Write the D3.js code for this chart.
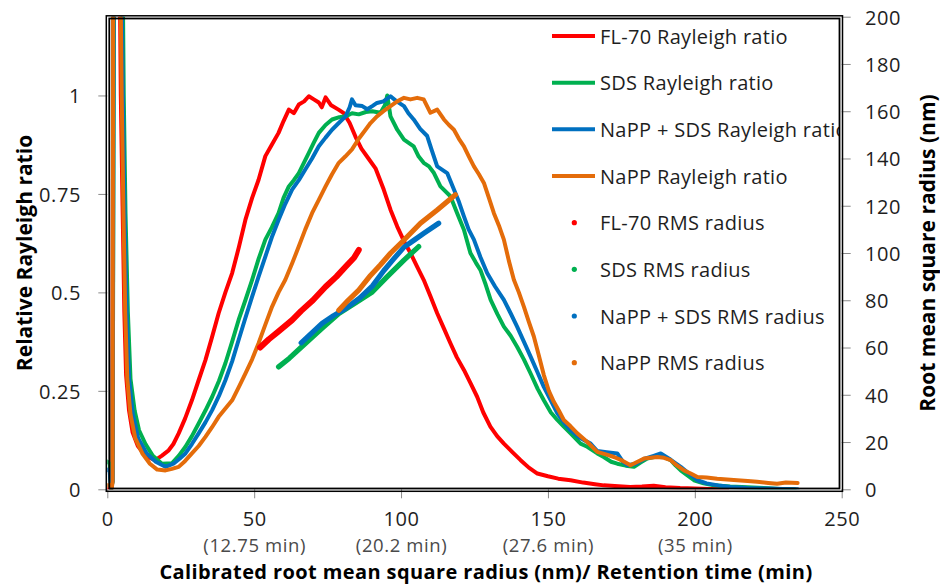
<!DOCTYPE html>
<html><head><meta charset="utf-8">
<script src="https://cdn.jsdelivr.net/npm/d3@7"></script>
<style>
body{margin:0;background:#fff;}
svg{display:block;font-family:"Open Sans",sans-serif;}
</style></head>
<body><svg id="chart" width="940" height="585"></svg>
<script>
// ---------- data (x: calibrated rms radius, nm) ----------
const xTicks = [0, 50, 100, 150, 200, 250];
const xSubLabels = ["", "(12.75 min)", "(20.2 min)", "(27.6 min)", "(35 min)", ""];
const yLeftTicks = [0, 0.25, 0.5, 0.75, 1];
const yLeftLabels = ["0", "0.25", "0.5", "0.75", "1"];
const yRightTicks = [0, 20, 40, 60, 80, 100, 120, 140, 160, 180, 200];

const seriesNames = ["FL-70", "SDS", "NaPP + SDS", "NaPP"];
const seriesColors = ["#FF0000", "#00B050", "#0070C0", "#E46C0A"];

// Relative Rayleigh ratio curves [x, ratio]
const fl70Rayleigh = [[0,0],[1.2,0],[1.7,0.02],[2.1,1.35],[4.2,1.35],[4.6,1.0],[5.2,0.72],[5.8,0.45],[6.4,0.29],[7.4,0.2],[8.6,0.145],[10.4,0.11],[13,0.085],[16.3,0.074],[18.5,0.085],[20.9,0.099],[22.5,0.115],[24.3,0.142],[26.5,0.18],[28.8,0.226],[31,0.275],[33.4,0.328],[35.6,0.385],[37.9,0.447],[40.2,0.5],[42.5,0.549],[44.8,0.615],[47,0.684],[49.3,0.74],[51.5,0.786],[53.8,0.846],[56,0.875],[58.3,0.905],[60,0.935],[61.8,0.964],[63.5,0.955],[65.2,0.977],[67,0.985],[68.6,0.998],[70.3,0.99],[72,0.982],[73,0.97],[74.3,0.995],[76.2,0.975],[78.7,0.964],[80.5,0.955],[82.5,0.93],[84.5,0.895],[86.5,0.865],[88.9,0.84],[91.3,0.815],[94.1,0.761],[96.4,0.71],[98.7,0.667],[101,0.63],[103.2,0.6],[105.5,0.565],[107.7,0.532],[110,0.49],[112.3,0.447],[114.5,0.41],[116.8,0.371],[119,0.335],[121.4,0.303],[123.6,0.27],[125.9,0.235],[128,0.195],[130.4,0.159],[132.7,0.135],[135,0.116],[137.8,0.095],[140.7,0.074],[143.5,0.055],[146.4,0.04],[150,0.033],[153.5,0.027],[157.7,0.023],[162,0.017],[166,0.013],[169,0.01],[174,0.008],[178,0.006],[182,0.007],[186,0.009],[190,0.005],[195,0.003],[200,0.002],[205,0.001],[211,0]];

const sdsRayleigh = [[0,0.07],[0.8,0.065],[1.3,0],[1.8,0.02],[2.3,1.35],[5.2,1.35],[5.6,1.0],[6.2,0.7],[7,0.45],[7.9,0.28],[9.3,0.2],[10.8,0.15],[13,0.115],[15.5,0.085],[18.6,0.065],[22,0.066],[24.3,0.085],[26.6,0.108],[28.8,0.135],[31.1,0.167],[33.4,0.2],[35.7,0.235],[38,0.275],[40.2,0.32],[42.5,0.375],[44.7,0.43],[47,0.48],[49.3,0.532],[51.5,0.585],[53.8,0.634],[56,0.665],[58.3,0.701],[60,0.74],[61.8,0.769],[63.5,0.785],[65.2,0.803],[67,0.83],[68.6,0.854],[70.3,0.88],[72,0.905],[74.3,0.925],[76.5,0.939],[79,0.945],[81.1,0.947],[83.3,0.955],[85.6,0.952],[88,0.958],[90.2,0.96],[93,0.956],[94.5,0.975],[95.3,1.0],[96.4,0.947],[98.7,0.913],[101,0.888],[104.3,0.871],[106,0.845],[107.7,0.829],[109.5,0.82],[111.2,0.803],[113.4,0.769],[116.8,0.744],[119.1,0.701],[121.4,0.659],[123.6,0.6],[125.5,0.575],[127,0.557],[128.8,0.52],[130.5,0.481],[132.8,0.445],[135,0.413],[137.3,0.39],[139.5,0.362],[141.8,0.33],[144.1,0.294],[146.5,0.255],[148.6,0.226],[151,0.195],[153.2,0.176],[155.4,0.159],[157.7,0.142],[161.1,0.116],[163.4,0.108],[166.8,0.091],[169,0.082],[171.5,0.07],[173.6,0.065],[176.5,0.06],[179.3,0.057],[181.5,0.068],[183.8,0.078],[186,0.082],[188.4,0.087],[190,0.08],[191.8,0.074],[193.5,0.06],[195.2,0.048],[197.5,0.035],[199.7,0.023],[203,0.015],[206.5,0.01],[212,0.007],[218,0.005],[223.5,0.003],[229,0.001],[234,0]];

const nappSdsRayleigh = [[0,0.05],[0.8,0.045],[1.3,0],[1.8,0.02],[2.2,1.35],[4.8,1.35],[5.3,1.0],[5.9,0.7],[6.6,0.45],[7.4,0.28],[8.7,0.19],[10.5,0.13],[13.5,0.09],[16.5,0.07],[19.8,0.057],[22.5,0.065],[24.5,0.077],[26.6,0.091],[28.8,0.115],[31.1,0.142],[33.4,0.17],[35.7,0.201],[38,0.237],[40.2,0.277],[42.5,0.325],[44.7,0.379],[47,0.435],[49.3,0.489],[51.5,0.54],[53.8,0.591],[56,0.64],[58.3,0.684],[60.6,0.725],[62.9,0.761],[65.2,0.785],[67.4,0.812],[69.7,0.84],[72,0.871],[74.3,0.893],[76.5,0.913],[78.8,0.93],[81.1,0.947],[82.5,0.97],[83.3,0.99],[84.5,0.975],[86.8,0.973],[88.5,0.965],[90.2,0.973],[91.8,0.981],[94,0.985],[96.4,0.998],[98.5,0.985],[101,0.973],[102.5,0.955],[104.3,0.939],[106.5,0.915],[108.9,0.897],[110.5,0.86],[112.3,0.82],[115.7,0.803],[118,0.761],[119.7,0.73],[121.4,0.693],[123,0.66],[124.8,0.634],[127,0.59],[129.3,0.549],[132,0.515],[135,0.481],[137.3,0.447],[139.5,0.413],[141.8,0.375],[144.1,0.337],[146.4,0.298],[148.6,0.26],[151,0.225],[153.2,0.193],[155.4,0.17],[157.7,0.15],[161,0.13],[164.5,0.116],[166.8,0.097],[170,0.094],[173.6,0.091],[175.5,0.07],[177,0.061],[180,0.065],[183,0.078],[186,0.085],[188.4,0.091],[191.8,0.075],[195.2,0.057],[198,0.04],[200.9,0.023],[204,0.015],[208,0.01],[212.2,0.006],[218,0.003],[225,0.002],[230,0.001],[235,0]];

const nappRayleigh = [[0,0.01],[1,0.01],[1.5,0],[1.8,0.02],[2,1.35],[4.4,1.35],[4.9,1.0],[5.5,0.7],[6.1,0.45],[6.8,0.28],[7.9,0.19],[9.5,0.13],[12,0.09],[14.5,0.065],[17,0.05],[19.8,0.048],[22,0.052],[24.3,0.057],[26.5,0.072],[28.8,0.091],[31.1,0.11],[33.4,0.133],[35.6,0.157],[37.9,0.184],[40.2,0.205],[42.5,0.226],[44.8,0.26],[47,0.294],[49.3,0.33],[51.5,0.371],[53.8,0.418],[56.1,0.464],[58.3,0.5],[60.6,0.532],[63,0.575],[65.2,0.617],[67.4,0.66],[69.7,0.701],[72,0.735],[74.3,0.769],[76.5,0.8],[78.8,0.829],[81,0.845],[83.3,0.863],[85.6,0.89],[87.9,0.913],[89.6,0.93],[91.8,0.947],[94,0.96],[96.4,0.973],[98.7,0.985],[101,0.994],[103.2,0.99],[105.5,0.994],[107.7,0.99],[110,0.956],[112.3,0.964],[114.6,0.939],[116.3,0.925],[118,0.913],[119.7,0.89],[121.4,0.871],[123.1,0.845],[124.8,0.82],[126.5,0.8],[128.2,0.778],[129.9,0.74],[131.6,0.701],[133.3,0.67],[135,0.634],[136.7,0.58],[138.4,0.532],[140.1,0.5],[141.8,0.464],[143.5,0.425],[145.2,0.388],[146.9,0.34],[148.6,0.29],[150.3,0.25],[152,0.222],[153.7,0.2],[155.4,0.176],[157.7,0.16],[160,0.142],[163.4,0.12],[166.8,0.095],[170,0.088],[172.5,0.082],[175.5,0.072],[178.1,0.061],[180.5,0.07],[182.7,0.078],[185,0.08],[187.2,0.082],[189.5,0.08],[191.8,0.074],[194,0.06],[196.3,0.048],[198.6,0.04],[200.9,0.031],[204,0.03],[207.6,0.027],[211,0.025],[214.4,0.023],[218,0.021],[221.2,0.019],[225,0.016],[228,0.014],[231,0.017],[235,0.016]];

// RMS radius (right axis, nm) [x, radius]
const fl70Rms = [[52,60],[55,63.5],[58,66.5],[62.9,71.6],[66,75.5],[70,80],[74.3,85.7],[78,90],[81.1,94.2],[84,98],[85.6,101.3]];
const sdsRms = [[58.3,51.8],[62,55.5],[67.4,61.7],[73,68],[78.8,74.4],[84,78.5],[90.2,83.5],[95.3,90],[101,97],[106,102.7]];
const nappSdsRms = [[66,62],[69,65.5],[73.1,70.2],[77,73.5],[81.1,76.5],[86,81],[90.2,86],[94.1,92.5],[97.5,97.5],[101,102.5],[104.5,105.5],[107.7,108.3],[112.8,112.6]];
const nappRms = [[78.8,75.8],[82,80],[85.6,84.3],[89.6,90.5],[93,95],[96.4,99.9],[101,105.5],[106.6,112.6],[112.3,118.2],[118.5,124.6]];

const rayleighSeries = [fl70Rayleigh, sdsRayleigh, nappSdsRayleigh, nappRayleigh];
const rmsSeries = [fl70Rms, sdsRms, nappSdsRms, nappRms];

const legendLabels = ["FL-70 Rayleigh ratio","SDS Rayleigh ratio","NaPP + SDS Rayleigh ratio","NaPP Rayleigh ratio",
  "FL-70 RMS radius","SDS RMS radius","NaPP + SDS RMS radius","NaPP RMS radius"];

// ---------- layout ----------
const X0 = 107.3, X1 = 841.7, YT = 16.7, YB = 489.3;
const svg = d3.select("#chart");
const x = d3.scaleLinear().domain([0, 250]).range([X0, X1]);
const yL = d3.scaleLinear().domain([0, 1.2]).range([YB, YT]);
const yR = d3.scaleLinear().domain([0, 200]).range([YB, YT]);

const defs = svg.append("defs");
defs.append("clipPath").attr("id","plotclip").append("rect")
  .attr("x", X0).attr("y", YT).attr("width", X1 - X0).attr("height", YB - YT);
defs.append("clipPath").attr("id","legclip").append("rect")
  .attr("x", X0).attr("y", YT).attr("width", 839.5 - X0).attr("height", YB - YT);

const tickColor = "#8a8a8a", labelColor = "#1e1e1e";

// axes
const gx = svg.append("g").attr("transform", `translate(0,${YB})`)
  .call(d3.axisBottom(x).tickValues(xTicks).tickSize(9).tickPadding(13.5).tickFormat(d => d));
const gl = svg.append("g").attr("transform", `translate(${X0},0)`)
  .call(d3.axisLeft(yL).tickValues(yLeftTicks).tickSize(9).tickPadding(17.3).tickFormat((d,i) => yLeftLabels[i]));
const gr = svg.append("g").attr("transform", `translate(${X1},0)`)
  .call(d3.axisRight(yR).tickValues(yRightTicks).tickSize(9).tickPadding(14.3).tickFormat(d => d));
[gx, gl, gr].forEach(g => {
  g.select(".domain").remove();
  g.selectAll(".tick line").attr("stroke", tickColor).attr("stroke-width", 1);
  g.selectAll(".tick text").attr("fill", labelColor).attr("font-size", 20)
    .attr("font-family", "Open Sans").style("letter-spacing", "0.6px");
});
gl.selectAll(".tick text").attr("dy", "0.37em");
gr.selectAll(".tick text").attr("dy", "0.37em");
// retention-time sub labels as separate texts under each tick
gx.selectAll(".tick").each(function(d, i) {
  if (xSubLabels[i]) {
    d3.select(this).append("text").attr("x", 0).attr("y", 62.7)
      .attr("text-anchor", "middle").attr("fill", "#4a4a4a").attr("font-size", 18.5)
      .attr("font-family", "Open Sans").style("letter-spacing", "0.6px")
      .text(xSubLabels[i]);
  }
});

// curves
const plot = svg.append("g").attr("clip-path", "url(#plotclip)");
const lineL = d3.line().x(d => x(d[0])).y(d => yL(d[1]));
const lineR = d3.line().x(d => x(d[0])).y(d => yR(d[1]));
rayleighSeries.forEach((s, i) => {
  plot.append("path").datum(s).attr("d", lineL).attr("fill", "none")
    .attr("stroke", seriesColors[i]).attr("stroke-width", 4)
    .attr("stroke-linejoin", "round").attr("stroke-linecap", "round");
});
rmsSeries.forEach((s, i) => {
  plot.append("path").datum(s).attr("d", lineR).attr("fill", "none")
    .attr("stroke", seriesColors[i]).attr("stroke-width", i === 0 ? 6 : 5.2)
    .attr("stroke-linejoin", "round").attr("stroke-linecap", "round");
});

// legend
const leg = svg.append("g").attr("clip-path", "url(#legclip)");
legendLabels.forEach((lab, i) => {
  const yy = 36 + i * 46.67;
  const c = seriesColors[i % 4];
  if (i < 4) {
    leg.append("line").attr("x1", 552).attr("x2", 595).attr("y1", yy).attr("y2", yy)
      .attr("stroke", c).attr("stroke-width", 4);
  } else {
    leg.append("circle").attr("cx", 574.3).attr("cy", yy).attr("r", 2.6).attr("fill", c);
  }
  leg.append("text").attr("x", 600).attr("y", yy + 7.5).attr("font-size", 20)
    .style("letter-spacing", "0.3px").attr("fill", labelColor).text(lab);
});

// plot border (double line)
svg.append("rect").attr("x", 106.3).attr("y", 15.8).attr("width", 842.5 - 106.3).attr("height", 491.3 - 15.8)
  .attr("fill", "none").attr("stroke", "#000").attr("stroke-width", 1.5);
svg.append("rect").attr("x", 109.3).attr("y", 18.5).attr("width", 839.5 - 109.3).attr("height", 488.5 - 18.5)
  .attr("fill", "none").attr("stroke", "#000").attr("stroke-width", 1.8);

// titles
svg.append("text").attr("x", 486).attr("y", 579).attr("text-anchor", "middle")
  .attr("font-size", 20).attr("font-weight", "bold").attr("fill", "#000")
  .style("letter-spacing", "0.4px")
  .text("Calibrated root mean square radius (nm)/ Retention time (min)");
svg.append("text").attr("transform", "translate(31.5,253) rotate(-90)").attr("text-anchor", "middle")
  .attr("font-size", 21).attr("font-weight", "bold").attr("fill", "#000")
  .text("Relative Rayleigh ratio");
svg.append("text").attr("transform", "translate(935,253) rotate(-90)").attr("text-anchor", "middle")
  .attr("font-size", 21).attr("font-weight", "bold").attr("fill", "#000")
  .text("Root mean square radius (nm)");
</script></body></html>
